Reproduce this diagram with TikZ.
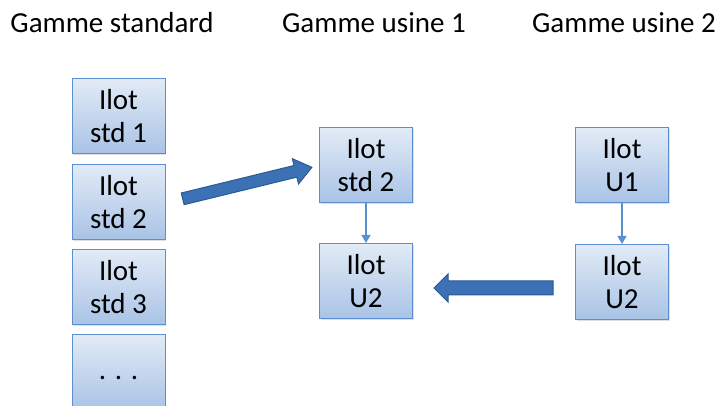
\documentclass[tikz,border=0pt]{standalone}
\usepackage{fontspec}
\setmainfont{Carlito}
\usetikzlibrary{shapes.arrows,shadows,arrows.meta}

\definecolor{boxline}{HTML}{5B8FCF}
\definecolor{boxtop}{HTML}{E2EBF6}
\definecolor{boxbot}{HTML}{A9C3E6}
\definecolor{arrfill}{HTML}{3C72B5}
\definecolor{arrline}{HTML}{2B5A92}

\begin{document}
\begin{tikzpicture}[x=1pt,y=-1pt,
  ilot/.style={draw=boxline,line width=1pt,top color=boxtop,bottom color=boxbot,
    minimum width=93pt,minimum height=75pt,align=center,inner sep=0pt,
    font=\fontsize{29}{33}\selectfont,
    drop shadow={shadow xshift=1.2pt,shadow yshift=-1.5pt,opacity=0.25}},
  titre/.style={font=\fontsize{29}{33}\selectfont,anchor=base},
  lien/.style={draw=boxline,line width=1.3pt,-{Triangle[length=8pt,width=9pt]}},
  grosse/.style={single arrow,draw=arrline,fill=arrfill,line width=1pt,inner xsep=0pt}]
% Frame of the reference (the last box is cut by the lower edge).
\clip (0,0) rectangle (718,406);

% Column titles.
\node[titre] (tstd) at (112,33) {Gamme standard};
\node[titre] (tu1) at (374,33) {Gamme usine 1};
\node[titre] (tu2) at (624,33) {Gamme usine 2};

% Standard routing.
\node[ilot] (std1) at (118.5,116) {Ilot\\std 1};
\node[ilot] (std2) at (118.5,202) {Ilot\\std 2};
\node[ilot] (std3) at (118.5,287) {Ilot\\std 3};
\node[ilot] (etc) at (118.5,372) {\raisebox{-7pt}[0pt][0pt]{. . .}};

% Plant 1 routing.
\node[ilot] (ua) at (366,165) {Ilot\\std 2};
\node[ilot] (ub) at (366,281) {Ilot\\U2};
\draw[lien] (ua) -- (ub);

% Plant 2 routing.
\node[ilot] (va) at (622,165) {Ilot\\U1};
\node[ilot] (vb) at (622,282) {Ilot\\U2};
\draw[lien] (va) -- (vb);

% Block arrows between the routings.
\node[grosse,minimum height=133pt,inner ysep=5.5pt,single arrow head extend=7pt,
  single arrow tip angle=75,rotate=13.7] (fl1) at (243.5,184) {};
\node[grosse,minimum height=119pt,inner ysep=6.5pt,single arrow head extend=7pt,
  single arrow tip angle=90,rotate=180] (fl2) at (497,288) {};
\end{tikzpicture}
\end{document}
